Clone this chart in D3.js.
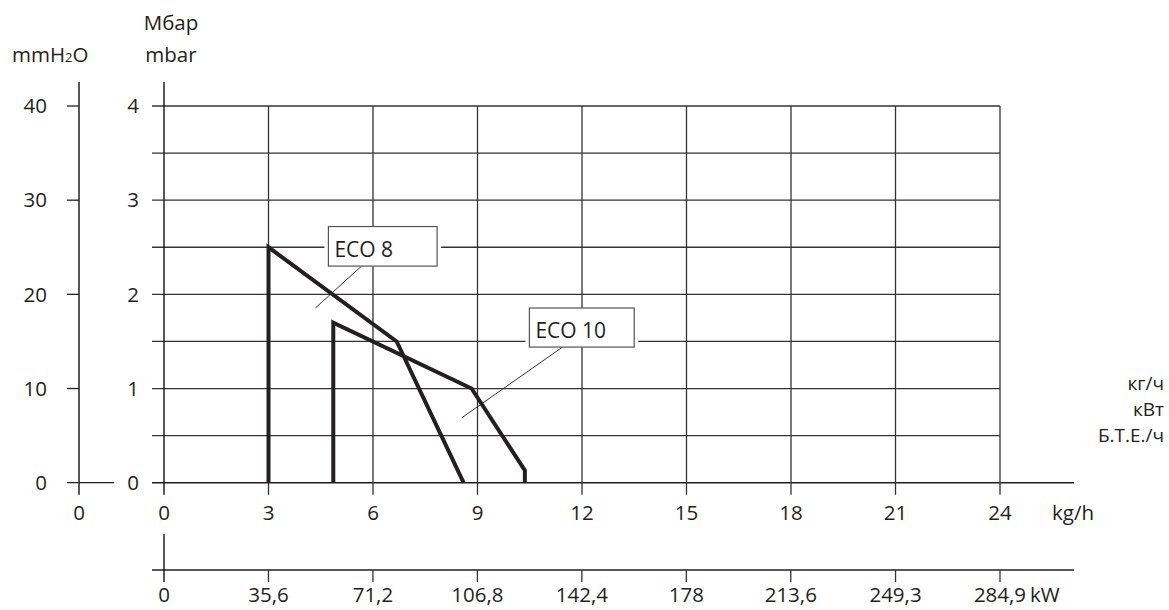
<!DOCTYPE html>
<html><head><meta charset="utf-8">
<script src="https://cdn.jsdelivr.net/npm/d3@7"></script>
<style>
html,body{margin:0;padding:0;background:#fff;}
text{font-family:"Open Sans",sans-serif;fill:#231f20;}
</style></head>
<body><svg id="c" width="1169" height="610"></svg>
<script>
// ---- data ----
const kgTicks = [0, 3, 6, 9, 12, 15, 18, 21, 24];
const kwTicks = [0, 35.6, 71.2, 106.8, 142.4, 178, 213.6, 249.3, 284.9];
const mbarTicks = [0, 1, 2, 3, 4];
const mbarGrid = [0.5, 1, 1.5, 2, 2.5, 3, 3.5, 4];
const mmTicks = [0, 10, 20, 30, 40];
const eco8X = [3, 3, 6.68, 8.6];
const eco8Y = [0, 2.5, 1.5, 0];
const eco10X = [4.86, 4.86, 8.83, 10.36, 10.36];
const eco10Y = [0, 1.7, 1.0, 0.13, 0];
const seriesNames = ["ECO 8", "ECO 10"];
const labelBoxX = [[4.72, 7.84], [10.49, 13.5]];
const labelBoxY = [[2.72, 2.3], [1.855, 1.44]];
const leaderFrom = [5.67, 11.44];
const leaderTo = [[4.35, 1.856], [8.55, 0.69]];
const rightUnits = ["кг/ч", "кВт", "Б.Т.Е./ч"];

// ---- layout ----
const svg = d3.select("#c");
const x = d3.scaleLinear().domain([0, 24]).range([164, 1000]);
const y = d3.scaleLinear().domain([0, 4]).range([482.7, 106]);
const yMM = d3.scaleLinear().domain([0, 40]).range([482.7, 106]);
const xKW = d3.scaleLinear().domain([0, 284.9]).range([164, 1000]);
const fmt = d => String(d).replace(".", ",");
const ink = "#231f20";
const gridW = 1.3;
const fs = 20.5;
const kwY = 570;

const g = svg.append("g");

// horizontal grid lines
g.selectAll(".hg").data(mbarGrid).join("line")
  .attr("x1", 152).attr("x2", x(24))
  .attr("y1", d => y(d)).attr("y2", d => y(d))
  .attr("stroke", "#333").attr("stroke-width", gridW);
// zero line
g.append("line").attr("x1", 152).attr("x2", 1074).attr("y1", y(0)).attr("y2", y(0))
  .attr("stroke", ink).attr("stroke-width", 1.5);
// vertical grid
g.selectAll(".vg").data(kgTicks.slice(1)).join("line")
  .attr("x1", d => x(d)).attr("x2", d => x(d))
  .attr("y1", y(4)).attr("y2", y(0) + 12)
  .attr("stroke", "#333").attr("stroke-width", gridW);
// main y axis
g.append("line").attr("x1", x(0)).attr("x2", x(0)).attr("y1", 82).attr("y2", y(0) + 12)
  .attr("stroke", ink).attr("stroke-width", 1.5);
// mbar labels
g.selectAll(".ml").data(mbarTicks).join("text")
  .attr("x", 139).attr("y", d => y(d)).attr("dy", "0.35em")
  .attr("text-anchor", "end").attr("font-size", fs).text(d => d);

// mmH2O axis
const mx = 79;
g.append("line").attr("x1", mx).attr("x2", mx).attr("y1", 82).attr("y2", y(0) + 12)
  .attr("stroke", ink).attr("stroke-width", 1.5);
g.selectAll(".mt").data(mmTicks).join("line")
  .attr("x1", 67).attr("x2", d => d === 0 ? 114 : mx)
  .attr("y1", d => yMM(d)).attr("y2", d => yMM(d))
  .attr("stroke", ink).attr("stroke-width", 1.3);
g.selectAll(".mmlab").data(mmTicks).join("text")
  .attr("x", 47).attr("y", d => yMM(d)).attr("dy", "0.35em")
  .attr("text-anchor", "end").attr("font-size", fs).text(d => d);
g.append("text").attr("x", mx).attr("y", 520).attr("text-anchor", "middle")
  .attr("font-size", fs).text("0");

// kg/h labels
g.selectAll(".kl").data(kgTicks).join("text")
  .attr("x", d => x(d)).attr("y", 520).attr("text-anchor", "middle")
  .attr("font-size", fs).text(d => d);
g.append("text").attr("x", 1052).attr("y", 520).attr("font-size", fs).text("kg/h");

// kW axis
g.append("line").attr("x1", 152).attr("x2", 1074).attr("y1", kwY).attr("y2", kwY)
  .attr("stroke", ink).attr("stroke-width", 1.5);
g.append("line").attr("x1", xKW(0)).attr("x2", xKW(0)).attr("y1", 534).attr("y2", kwY + 12)
  .attr("stroke", ink).attr("stroke-width", 1.5);
g.selectAll(".kwt").data(kwTicks.slice(1)).join("line")
  .attr("x1", d => xKW(d)).attr("x2", d => xKW(d))
  .attr("y1", kwY).attr("y2", kwY + 12)
  .attr("stroke", "#333").attr("stroke-width", gridW);
g.selectAll(".kwl").data(kwTicks).join("text")
  .attr("x", d => xKW(d)).attr("y", 602).attr("text-anchor", "middle")
  .attr("font-size", fs).text(fmt);
g.append("text").attr("x", 1030).attr("y", 602).attr("font-size", fs).text("kW");

// unit titles
const t1 = g.append("text").attr("x", 12).attr("y", 62).attr("font-size", fs);
t1.append("tspan").text("mmH");
t1.append("tspan").attr("font-size", 13).text("2");
t1.append("tspan").text("O");
g.append("text").attr("x", 171).attr("y", 30).attr("text-anchor", "middle").attr("font-size", fs).text("Мбар");
g.append("text").attr("x", 171).attr("y", 62).attr("text-anchor", "middle").attr("font-size", fs).text("mbar");

// right unit labels
g.selectAll(".ru").data(rightUnits).join("text")
  .attr("x", 1164).attr("y", (d, i) => 383 + i * 26).attr("dy", "0.35em")
  .attr("text-anchor", "end").attr("font-size", 19).text(d => d);

// leader lines
seriesNames.forEach((n, i) => {
  g.append("line")
    .attr("x1", x(leaderFrom[i])).attr("y1", y(labelBoxY[i][1]))
    .attr("x2", x(leaderTo[i][0])).attr("y2", y(leaderTo[i][1]))
    .attr("stroke", ink).attr("stroke-width", 0.9);
});

// curves
const line = d3.line().x(d => x(d[0])).y(d => y(d[1]));
[[eco8X, eco8Y], [eco10X, eco10Y]].forEach(([xs, ys]) => {
  g.append("path").datum(xs.map((v, i) => [v, ys[i]]))
    .attr("d", line).attr("fill", "none")
    .attr("stroke", ink).attr("stroke-width", 4).attr("stroke-linejoin", "miter");
});

// label boxes
seriesNames.forEach((n, i) => {
  const x0 = x(labelBoxX[i][0]), x1 = x(labelBoxX[i][1]);
  const y0 = y(labelBoxY[i][0]), y1 = y(labelBoxY[i][1]);
  g.append("rect").attr("x", x0 - 4).attr("y", y0).attr("width", x1 - x0 + 8).attr("height", y1 - y0)
    .attr("fill", "#fff");
  g.append("rect").attr("x", x0).attr("y", y0).attr("width", x1 - x0).attr("height", y1 - y0)
    .attr("fill", "#fff").attr("stroke", "#555").attr("stroke-width", 1.2);
  g.append("text").attr("x", x0 + 6).attr("y", y1 - 9).attr("font-size", 21).text(n);
});
</script></body></html>
